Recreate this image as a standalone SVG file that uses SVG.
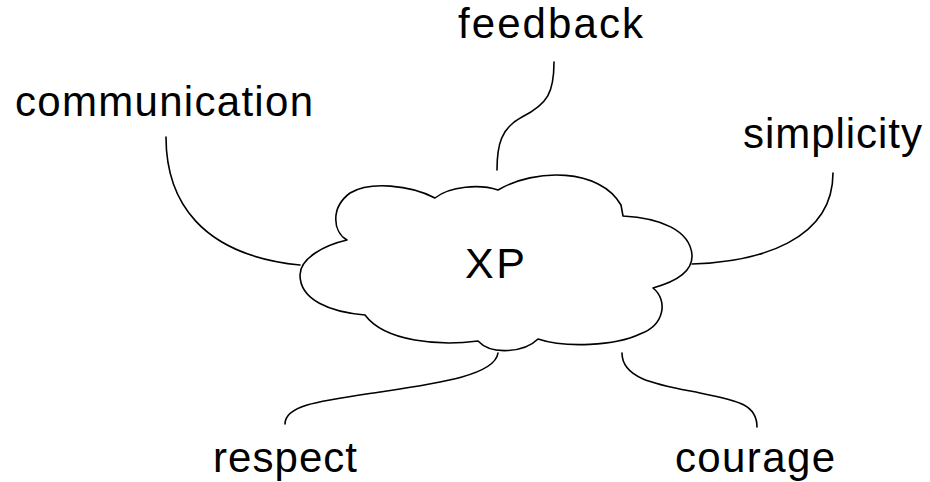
<svg xmlns="http://www.w3.org/2000/svg" width="930" height="482" viewBox="0 0 930 482">
  <style>
    .line { fill: none; stroke: #000; stroke-width: 1.6; stroke-linecap: round; stroke-linejoin: round; }
    .cloud { fill: #fff; stroke: #000; stroke-width: 1.6; stroke-linejoin: round; }
    .label { font-family: "Liberation Sans", Arial, sans-serif; font-size: 42px; fill: #000; }
    .title { font-family: "Liberation Sans", Arial, sans-serif; font-size: 43px; fill: #000; }
  </style>
  <rect width="930" height="482" fill="#fff"/>

  <!-- connectors from the cloud to each value -->
  <g id="connectors">
    <path class="line" d="M166,137 C166,200 200,255 300,265"/>
    <path class="line" d="M554,62 C554,92 548,104 522,117 C501,128 497,145 497,170"/>
    <path class="line" d="M833,173 C833,240 760,262 692,264"/>
    <path class="line" d="M498,353 C495,375 440,383 380,392 C320,401 285,405 285,424"/>
    <path class="line" d="M622,353 C622,380 660,385 700,393 C740,401 757,405 757,427"/>
  </g>

  <!-- central cloud -->
  <g id="xp">
    <path class="cloud" d="M347,240 C333,232 330,208 350,193 C370,181 410,185 435,198 C450,186 480,184 498,190 C535,168 600,168 621,205 L623,216 C660,218 690,230 692,255 C693,272 675,282 653,288 C668,300 665,325 640,334 C615,346 565,348 538,339 C525,352 492,356 478,341 C440,346 385,342 365,315 C330,312 300,300 300,275 C300,258 325,245 347,240 Z"/>
    <text class="title" x="465" y="278" textLength="60">XP</text>
  </g>

  <g id="communication">
    <text class="label" x="15" y="116" textLength="298">communication</text>
  </g>
  <g id="feedback">
    <text class="label" x="458" y="38" textLength="185">feedback</text>
  </g>
  <g id="simplicity">
    <text class="label" x="743" y="148" textLength="179">simplicity</text>
  </g>
  <g id="respect">
    <text class="label" x="213" y="472" textLength="144">respect</text>
  </g>
  <g id="courage">
    <text class="label" x="675" y="472" textLength="160">courage</text>
  </g>
</svg>
